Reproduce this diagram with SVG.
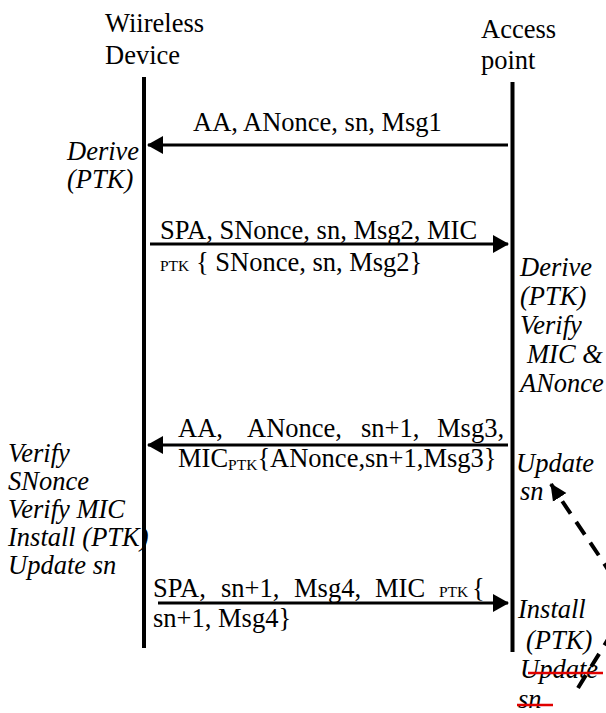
<svg xmlns="http://www.w3.org/2000/svg" width="606" height="713" viewBox="0 0 606 713" font-family="Liberation Serif, DejaVu Serif, serif">
<style>
text{font-family:'Liberation Serif','DejaVu Serif',serif;font-size:26.5px;fill:#000}
.it{font-style:italic}
.sub{font-size:15.5px}
.life{stroke:#000;stroke-width:4;fill:none}
.msg{stroke:#000;stroke-width:3;fill:none}
.strike{stroke:#e00000;stroke-width:2.5}
</style>
<defs>
<marker id="ah" markerUnits="userSpaceOnUse" markerWidth="16" markerHeight="18" refX="15" refY="9" orient="auto">
<path d="M0,0 L16,9 L0,18 Z" fill="#000"/>
</marker>
<marker id="ahd" markerUnits="userSpaceOnUse" markerWidth="18" markerHeight="18" refX="16" refY="9" orient="auto">
<path d="M0,1 L17,9 L0,17 Z" fill="#000"/>
</marker>
</defs>
<g id="wireless-device">
<text x="105" y="32">Wiireless</text>
<text x="105" y="64">Device</text>
<line class="life" x1="144" y1="77" x2="144" y2="648"/>
</g>
<g id="access-point">
<text x="481" y="38">Access</text>
<text x="481" y="69">point</text>
<line class="life" x1="512.5" y1="82" x2="512.5" y2="652"/>
</g>
<g id="device-notes">
<text class="it" x="67" y="160">Derive</text>
<text class="it" x="67" y="188">(PTK)</text>
<text class="it" x="8" y="462">Verify</text>
<text class="it" x="8" y="490">SNonce</text>
<text class="it" x="8" y="518">Verify MIC</text>
<text class="it" x="8" y="546">Install (PTK)</text>
<text class="it" x="8" y="574">Update sn</text>
</g>
<g id="ap-notes">
<text class="it" x="520" y="276">Derive</text>
<text class="it" x="520" y="305">(PTK)</text>
<text class="it" x="520" y="334">Verify</text>
<text class="it" x="527" y="363">MIC &amp;</text>
<text class="it" x="520" y="392">ANonce</text>
<text class="it" x="516" y="472">Update</text>
<text class="it" x="520" y="500">sn</text>
<text class="it" x="518" y="618">Install</text>
<text class="it" x="526" y="649">(PTK)</text>
<text class="it" x="520" y="678">Update</text>
<text class="it" x="518" y="708">sn</text>
<line class="strike" x1="528" y1="673" x2="603" y2="673"/>
<line class="strike" x1="517" y1="705" x2="553" y2="705"/>
</g>
<g id="connectors">
<line class="msg" x1="508" y1="145" x2="148" y2="145" marker-end="url(#ah)"/>
<line class="msg" x1="150" y1="244" x2="508" y2="244" marker-end="url(#ah)"/>
<line class="msg" x1="508" y1="445" x2="148" y2="445" marker-end="url(#ah)"/>
<line class="msg" x1="158" y1="603" x2="508" y2="603" marker-end="url(#ah)"/>
<path d="M578,688 C640,585 639,620 551,484" fill="none" stroke="#000" stroke-width="4" stroke-dasharray="15,10" marker-end="url(#ahd)"/>
</g>
<g id="labels">
<text x="193" y="131">AA, ANonce, sn, Msg1</text>
<text x="160" y="239">SPA, SNonce, sn, Msg2, MIC</text>
<text x="160" y="271"><tspan class="sub">PTK</tspan> { SNonce, sn, Msg2}</text>
<text x="178" y="437">AA,</text>
<text x="247" y="437">ANonce,</text>
<text x="361" y="437">sn+1,</text>
<text x="437" y="437">Msg3,</text>
<text x="178" y="467">MIC<tspan class="sub" dy="3">PTK</tspan><tspan dy="-3">{ANonce,sn+1,Msg3}</tspan></text>
<text x="153" y="597">SPA,</text>
<text x="221" y="597">sn+1,</text>
<text x="294" y="597">Msg4,</text>
<text x="375" y="597">MIC</text>
<text class="sub" x="439" y="597">PTK</text>
<text x="472" y="597">{</text>
<text x="153" y="627">sn+1, Msg4}</text>
</g>
</svg>
